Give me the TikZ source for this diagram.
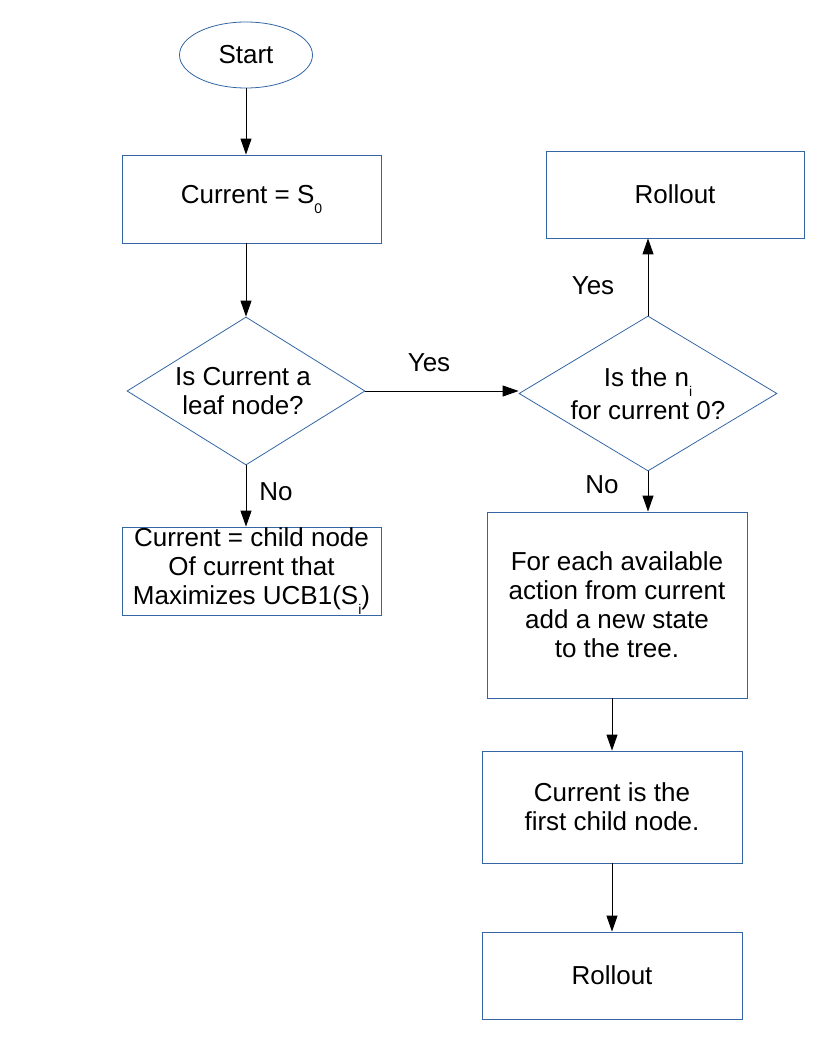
\documentclass[tikz,border=0pt]{standalone}
\usepackage{fontspec}
\setmainfont{Liberation Sans}
\usetikzlibrary{shapes.geometric, arrows.meta}

\definecolor{boxblue}{HTML}{3465A4}
\newcommand{\lowsub}[1]{\raisebox{-10pt}{\fontsize{14}{14}\selectfont #1}}

\begin{document}
\begin{tikzpicture}[x=1pt, y=-1pt,
    every node/.style={font=\fontsize{26}{29}\selectfont},
    block/.style={draw=boxblue, line width=0.8pt, rectangle, align=center, inner sep=0pt},
    decision/.style={draw=boxblue, line width=0.8pt, diamond, inner sep=0pt},
    flow/.style={line width=1pt, -{Triangle[width=11pt, length=16pt]}}]
    \useasboundingbox (0, 0) rectangle (816, 1056);

    % Start
    \node [draw=boxblue, line width=0.8pt, ellipse, minimum width=133,
           minimum height=66, inner sep=0pt] (start) at (246, 55) {Start};

    % Initial state
    \node [block, minimum width=259, minimum height=88]
          (init) at (251.5, 199) {Current = S\lowsub{0}};

    % Leaf test
    \node [decision, minimum width=238, minimum height=148,
           label={[align=center, xshift=-3pt]center:Is Current a\\leaf node?}]
          (leaf) at (246, 391) {};

    % Child selection
    \node [block, minimum width=259, minimum height=88]
          (child) at (251.5, 571)
          {Current = child node\\Of current that\\Maximizes UCB1(S\lowsub{i})};

    % Visit count test
    \node [decision, minimum width=258, minimum height=155,
           label={[align=center]center:Is the n\lowsub{i}\\[4pt]for current 0?}]
          (visits) at (648, 393.5) {};

    % Rollout (unvisited)
    \node [block, minimum width=258, minimum height=87]
          (roll1) at (675, 194.5) {Rollout};

    % Expansion
    \node [block, minimum width=260, minimum height=186]
          (expand) at (617, 605)
          {For each available\\action from current\\add a new state\\to the tree.};

    % First child
    \node [block, minimum width=260, minimum height=112]
          (first) at (612, 807) {Current is the\\first child node.};

    % Rollout (expanded)
    \node [block, minimum width=260, minimum height=87]
          (roll2) at (612, 975.5) {Rollout};

    % Branch labels
    \node (yes1) at (429, 363) {Yes};
    \node (no1) at (276, 492) {No};
    \node (yes2) at (593, 286) {Yes};
    \node (no2) at (602, 485) {No};

    % Connections
    \draw [flow] (start.south) -- (start.south |- init.north);
    \draw [flow] (leaf.north |- init.south) -- (leaf.north);
    \draw [flow] (leaf.south) -- (leaf.south |- child.north);
    \draw [flow] (leaf.east) -- (leaf.east -| visits.west);
    \draw [flow] (visits.north) -- (visits.north |- roll1.south);
    \draw [flow] (visits.south) -- (visits.south |- expand.north);
    \draw [flow] (expand.south -| first.north) -- (first.north);
    \draw [flow] (first.south) -- (roll2.north);

\end{tikzpicture}
\end{document}
